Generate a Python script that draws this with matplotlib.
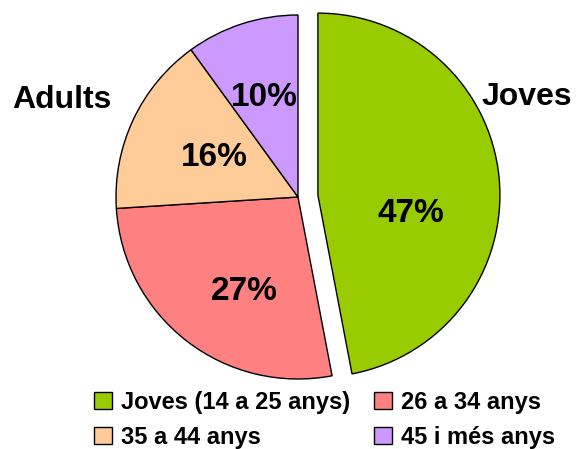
import numpy as np
import matplotlib.pyplot as plt

plt.rcParams['font.family'] = ['Liberation Sans', 'DejaVu Sans']

labels = ['Joves (14 a 25 anys)', '26 a 34 anys', '35 a 44 anys', '45 i més anys']
values = [47, 27, 16, 10]
colors = ['#99cc00', '#ff8080', '#ffcc99', '#cc99ff']
explode = [20, 0, 0, 0]  # pie offsets are in data units here

fig = plt.figure(figsize=(5.77, 4.49), dpi=100)
ax = fig.add_axes([0, 0, 1, 1])

wedges, _ = ax.pie(values, colors=colors, explode=explode, startangle=90,
                   counterclock=False, center=(298, 252), radius=182,
                   wedgeprops=dict(edgecolor='black', linewidth=1))
ax.set_xlim(0, 577)
ax.set_ylim(0, 449)
ax.set_aspect('equal')
ax.axis('off')

# percentage labels
pct_pos = [(411, 235), (244, 157), (214, 292), (264, 352)]
for v, (x, y) in zip(values, pct_pos):
    ax.text(x, y, f'{v}%', ha='center', va='center', fontsize=24, fontweight='bold')

ax.text(527, 352, 'Joves', ha='center', va='center', fontsize=23, fontweight='bold')
ax.text(62, 349, 'Adults', ha='center', va='center', fontsize=23, fontweight='bold')

order = [0, 2, 1, 3]
leg = fig.legend([wedges[i] for i in order], [labels[i] for i in order],
                 loc='lower center', bbox_to_anchor=(0.563, -0.047), ncol=2,
                 frameon=False, prop=dict(size=17, weight='bold'),
                 handlelength=0.75, handleheight=0.75, handletextpad=0.4,
                 columnspacing=1.0, labelspacing=0.5)

fig.savefig('out.png', dpi=100)
